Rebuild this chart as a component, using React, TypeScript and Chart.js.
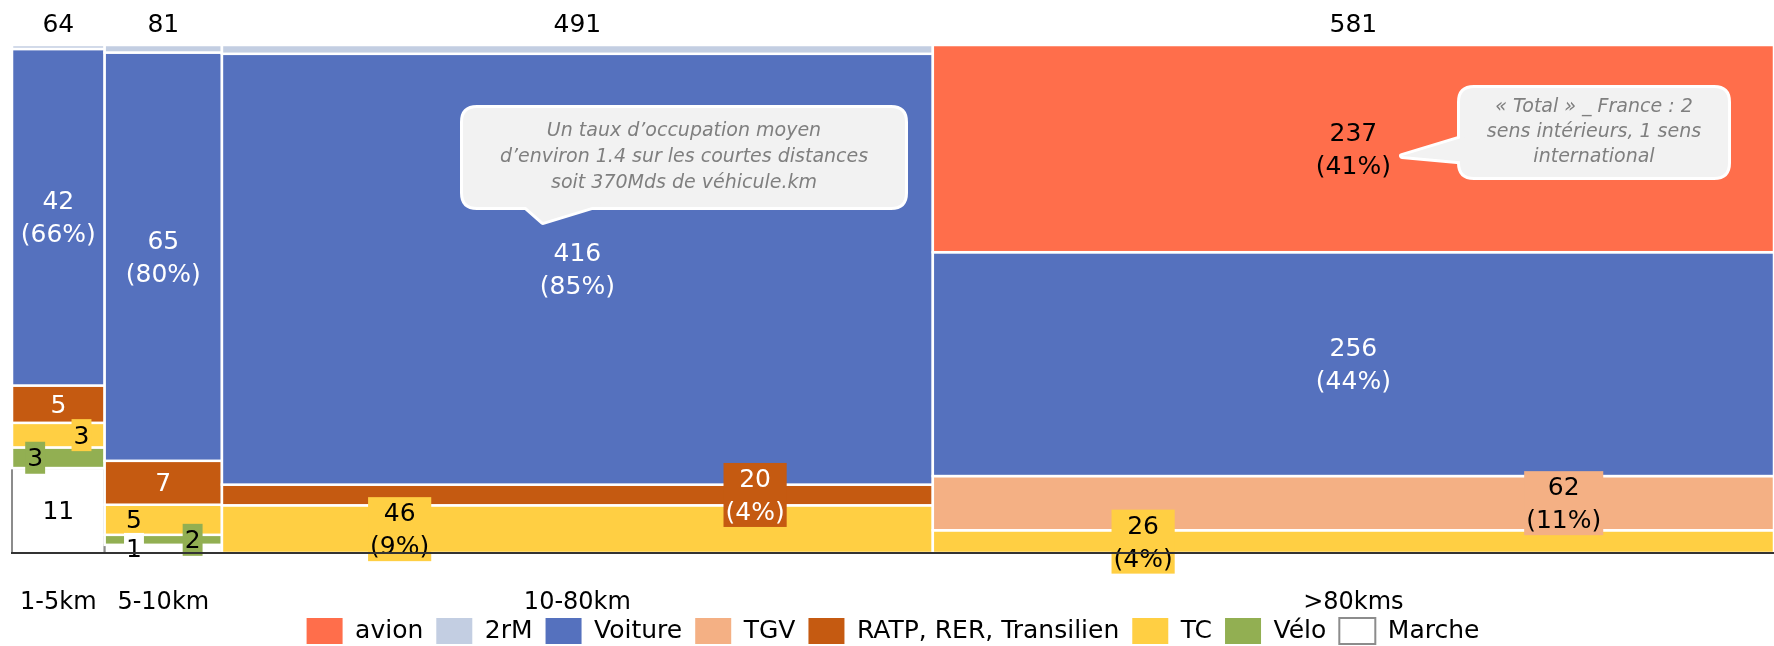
import { useEffect, useRef } from 'react';
import { Chart, registerables } from 'chart.js';

Chart.register(...registerables);

// ---------- data (Mds voyageurs.km) ----------
const categories = ['1-5km', '5-10km', '10-80km', '>80kms'];
// stacked from bottom to top
const marche = [10.7, 1.3, 0, 0];
const velo = [2.6, 1.6, 0, 0];
const tc = [3.1, 4.8, 46.1, 26];
const ratp = [4.7, 7.0, 20, 0];
const tgv = [0, 0, 0, 62];
const voiture = [42.4, 65.1, 416.4, 256];
const deuxRoues = [0.5, 1.2, 8.5, 0];
const avion = [0, 0, 0, 237];

const seriesNames = ['Marche', 'Vélo', 'TC', 'RATP, RER, Transilien', 'TGV', 'Voiture', '2rM', 'avion'];
const seriesData = [marche, velo, tc, ratp, tgv, voiture, deuxRoues, avion];
const seriesColors = ['#FFFFFF', '#92AF52', '#FFCF43', '#C55A11', '#F4B084', '#5571BE', '#C3CEE2', '#FF6E4B'];
const labelTextColors = ['#000000', '#000000', '#000000', '#FFFFFF', '#000000', '#FFFFFF', '#000000', '#000000'];
// label placement per series / column: c = centre, l / r = left / right quarter,
// upper case = with a background box, '' = no label
const labelPlacement = [
  ['c', 'L', '', ''],
  ['L', 'R', '', ''],
  ['R', 'l', 'L', 'L'],
  ['c', 'c', 'R', ''],
  ['', '', '', 'R'],
  ['c', 'c', 'c', 'c'],
  ['', '', '', ''],
  ['', '', '', 'c'],
];

const callout1Lines = ['Un taux d’occupation moyen', 'd’environ 1.4 sur les courtes distances', 'soit 370Mds de véhicule.km'];
const callout2Lines = ['« Total » _ France : 2', 'sens intérieurs, 1 sens', 'international'];

const FONT = '"DejaVu Sans", "Noto Sans", sans-serif';

const totals = categories.map((_, i) => seriesData.reduce((s, arr) => s + arr[i], 0));
const starts: number[] = [];
let acc = 0;
totals.forEach((t) => { starts.push(acc); acc += t; });
const grandTotal = acc;
const centers = totals.map((t, i) => starts[i] + t / 2);

type Callout = { lines: string[]; box: number[]; pointer: number[][]; lineGap: number };
const callouts: Callout[] = [
  { lines: callout1Lines, box: [463, 108, 905, 207], pointer: [[518, 200], [543, 222], [615, 200]], lineGap: 26 },
  { lines: callout2Lines, box: [1460, 88, 1728, 177], pointer: [[1468, 136], [1402, 156], [1468, 162]], lineGap: 25 },
];

function roundRect(ctx: CanvasRenderingContext2D, x0: number, y0: number, x1: number, y1: number, r: number) {
  ctx.beginPath();
  ctx.moveTo(x0 + r, y0);
  ctx.lineTo(x1 - r, y0);
  ctx.quadraticCurveTo(x1, y0, x1, y0 + r);
  ctx.lineTo(x1, y1 - r);
  ctx.quadraticCurveTo(x1, y1, x1 - r, y1);
  ctx.lineTo(x0 + r, y1);
  ctx.quadraticCurveTo(x0, y1, x0, y1 - r);
  ctx.lineTo(x0, y0 + r);
  ctx.quadraticCurveTo(x0, y0, x0 + r, y0);
  ctx.closePath();
}

const mekkoPlugin = {
  id: 'mekko',
  beforeDatasetsDraw(chart: any) {
    const ctx: CanvasRenderingContext2D = chart.ctx;
    const xs = chart.scales.x;
    const ys = chart.scales.y;
    ctx.save();
    // segments
    const rects: any[] = [];
    categories.forEach((_, i) => {
      let cum = 0;
      const x0 = xs.getPixelForValue(starts[i]);
      const x1 = xs.getPixelForValue(starts[i] + totals[i]);
      seriesData.forEach((arr, s) => {
        const v = arr[i];
        if (v <= 0) return;
        const yb = ys.getPixelForValue(cum / totals[i]);
        const yt = ys.getPixelForValue((cum + v) / totals[i]);
        cum += v;
        rects.push({ i, s, v, x0, x1, yb, yt });
      });
    });
    rects.filter((r) => r.s === 0).forEach((r) => {
      ctx.fillStyle = seriesColors[r.s];
      ctx.fillRect(r.x0, r.yt, r.x1 - r.x0, r.yb - r.yt);
      ctx.strokeStyle = '#8C8C8C';
      ctx.lineWidth = 2;
      ctx.strokeRect(r.x0, r.yt, r.x1 - r.x0, r.yb - r.yt);
    });
    rects.filter((r) => r.s !== 0).forEach((r) => {
      ctx.fillStyle = seriesColors[r.s];
      ctx.fillRect(r.x0, r.yt, r.x1 - r.x0, r.yb - r.yt);
      ctx.strokeStyle = '#FFFFFF';
      ctx.lineWidth = 2.5;
      ctx.strokeRect(r.x0, r.yt, r.x1 - r.x0, r.yb - r.yt);
    });

    // callouts
    callouts.forEach((c) => {
      const [bx0, by0, bx1, by1] = c.box;
      const pointerPath = () => {
        ctx.beginPath();
        ctx.moveTo(c.pointer[0][0], c.pointer[0][1]);
        c.pointer.slice(1).forEach((p) => ctx.lineTo(p[0], p[1]));
        ctx.closePath();
      };
      ctx.strokeStyle = '#FFFFFF';
      ctx.lineWidth = 6;
      ctx.lineJoin = 'round';
      roundRect(ctx, bx0, by0, bx1, by1, 14);
      ctx.stroke();
      pointerPath();
      ctx.stroke();
      ctx.fillStyle = '#F2F2F2';
      roundRect(ctx, bx0, by0, bx1, by1, 14);
      ctx.fill();
      pointerPath();
      ctx.fill();
      ctx.fillStyle = '#7F7F7F';
      ctx.font = `italic 19px ${FONT}`;
      ctx.textAlign = 'center';
      ctx.textBaseline = 'middle';
      const cx = (bx0 + bx1) / 2;
      const cy = (by0 + by1) / 2;
      c.lines.forEach((t, k) => ctx.fillText(t, cx, cy + (k - (c.lines.length - 1) / 2) * c.lineGap));
    });

    // data labels
    ctx.font = `25px ${FONT}`;
    ctx.textAlign = 'center';
    ctx.textBaseline = 'middle';
    const lh = 33;
    rects.forEach((r) => {
      const pos = labelPlacement[r.s][r.i];
      if (!pos) return;
      const share = r.v / totals[r.i];
      const showPct = totals[r.i] > 100 || share > 0.5;
      const lines = showPct ? [String(Math.round(r.v)), `(${Math.round(share * 100)}%)`] : [String(Math.round(r.v))];
      const p = pos.toLowerCase();
      const frac = p === 'l' ? 0.25 : p === 'r' ? 0.75 : 0.5;
      const cx = r.x0 + (r.x1 - r.x0) * frac;
      const cy = (r.yt + r.yb) / 2;
      if (pos !== p) {
        const w = Math.max(...lines.map((t) => ctx.measureText(t).width)) + 4;
        const h = lines.length * (lh - 1);
        ctx.fillStyle = seriesColors[r.s];
        ctx.fillRect(cx - w / 2, cy - h / 2, w, h);
      }
      ctx.fillStyle = labelTextColors[r.s];
      lines.forEach((t, k) => ctx.fillText(t, cx, cy + 2 + (k - (lines.length - 1) / 2) * lh));
    });

    // column totals
    ctx.fillStyle = '#000000';
    categories.forEach((_, i) => {
      ctx.fillText(String(Math.round(totals[i])), xs.getPixelForValue(centers[i]), 25);
    });

    // category labels, placed at the x-axis tick positions
    ctx.font = `24px ${FONT}`;
    xs.ticks.forEach((_t: any, i: number) => {
      ctx.fillText(categories[i], xs.getPixelForTick(i), xs.top + 50);
    });
    ctx.restore();
  },
};

export default function App() {
  const ref = useRef<HTMLCanvasElement | null>(null);
  useEffect(() => {
    document.body.style.margin = '0';
    document.body.style.overflow = 'hidden';
    const canvas = ref.current;
    if (!canvas) return;
    const order = [...seriesNames.keys()].reverse();
    const chart = new Chart(canvas, {
      type: 'scatter',
      data: {
        datasets: order.map((s) => ({
          label: seriesNames[s],
          data: [],
          backgroundColor: seriesColors[s],
          borderColor: s === 0 ? '#8C8C8C' : seriesColors[s],
          borderWidth: s === 0 ? 2 : 0,
        })),
      },
      options: {
        animation: false,
        responsive: false,
        devicePixelRatio: 1,
        layout: { padding: { top: 45, left: 12, right: 0, bottom: -8 } },
        scales: {
          x: {
            type: 'linear',
            min: 0,
            max: grandTotal,
            grid: { display: false, drawTicks: false },
            border: { display: true, color: '#333333', width: 2, z: 1 },
            afterBuildTicks: (scale: any) => {
              scale.ticks = centers.map((v) => ({ value: v }));
            },
            afterFit: (scale: any) => {
              scale.height = 52;
              scale.paddingLeft = 0;
              scale.paddingRight = 0;
            },
            ticks: {
              display: false,
              autoSkip: false,
              maxRotation: 0,
              callback: (_v: any, i: number) => categories[i],
            },
          },
          y: { display: false, min: 0, max: 1 },
        },
        plugins: {
          legend: {
            position: 'bottom',
            labels: {
              boxWidth: 36,
              boxHeight: 26,
              padding: 13,
              color: '#000000',
              font: { family: FONT, size: 25 },
            },
          },
          tooltip: { enabled: false },
        },
      } as any,
      plugins: [mekkoPlugin],
    });
    return () => chart.destroy();
  }, []);
  return <canvas ref={ref} width={1774} height={646} style={{ display: 'block' }} />;
}
